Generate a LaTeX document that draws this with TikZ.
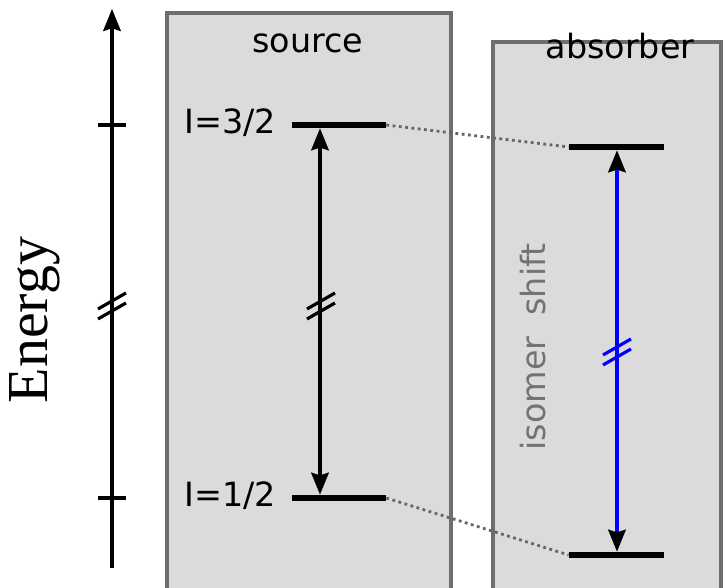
\documentclass[tikz,border=0pt]{standalone}
\usepackage{fontspec}
\setsansfont{DejaVu Sans}
\newfontfamily\serifbig{Liberation Serif}
\usetikzlibrary{arrows.meta}

\begin{document}
\begin{tikzpicture}[x=0.02cm, y=-0.02cm,
  panel/.style={draw=black!57, fill=black!14, line width=1.8pt},
  lvl/.style={fill=black, inner sep=0pt, minimum width=1.88cm, minimum height=3.4pt},
  tag/.style={font=\sffamily\fontsize{19}{22}\selectfont},
  trans/.style={{Stealth[length=12.5pt, width=10pt, inset=1.5pt, black]}-{Stealth[length=12.5pt, width=10pt, inset=1.5pt, black]}, line width=1.8pt},
  link/.style={dotted, draw=black!60, line width=1.6pt}]

  \useasboundingbox (0,0) rectangle (725,588);

  % the two panels
  \draw[panel] (167,600) -- (167,13) -- (451,13) -- (451,600);
  \draw[panel] (493,600) -- (493,42) -- (721,42) -- (721,600);
  \node[tag, anchor=base] (src) at (308,53) {source};
  \node[tag, anchor=base] (abs) at (620,59) {absorber};

  % energy axis
  \coordinate (ebot) at (112,568);
  \coordinate (etop) at (112,9);
  \draw[line width=1.8pt, -{Stealth[length=12.5pt, width=10pt, inset=1.5pt]}] (ebot) -- (etop);
  \draw[line width=1.8pt] (98,125) -- (126,125);
  \draw[line width=1.8pt] (98,498) -- (126,498);
  \node[rotate=90, anchor=base, font=\serifbig\fontsize{33}{36}\selectfont] (energy) at (48,320) {Energy};

  % levels
  \node[lvl] (s32) at (339,125) {};
  \node[lvl] (s12) at (339,498) {};
  \node[lvl, minimum width=1.9cm] (a32) at (616.5,147) {};
  \node[lvl, minimum width=1.9cm] (a12) at (616.5,555) {};
  \node[tag, anchor=base east] (l32) at (282,134) {I=3/2};
  \node[tag, anchor=base east] (l12) at (282,507) {I=1/2};

  \draw[link] (s32.east) -- (a32.west);
  \draw[link] (s12.east) -- (a12.west);

  % transitions
  \coordinate (sx) at (320,0);
  \coordinate (ax) at (617,0);
  \draw[trans] (s32.south -| sx) -- (s12.north -| sx);
  \draw[trans, draw=blue] (a32.south -| ax) -- (a12.north -| ax);
  \node[tag, rotate=90, anchor=base, text=black!55] (iso) at (545,347) {isomer\ \ shift};

  % breaks
  \foreach \bx/\by/\bc in {112/306/black, 321/306/black, 617/352/blue} {
    \draw[line width=1.8pt, \bc] (\bx-14,\by+3) -- (\bx+14,\by-13);
    \draw[line width=1.8pt, \bc] (\bx-14,\by+13) -- (\bx+14,\by-3);
  }
\end{tikzpicture}
\end{document}
